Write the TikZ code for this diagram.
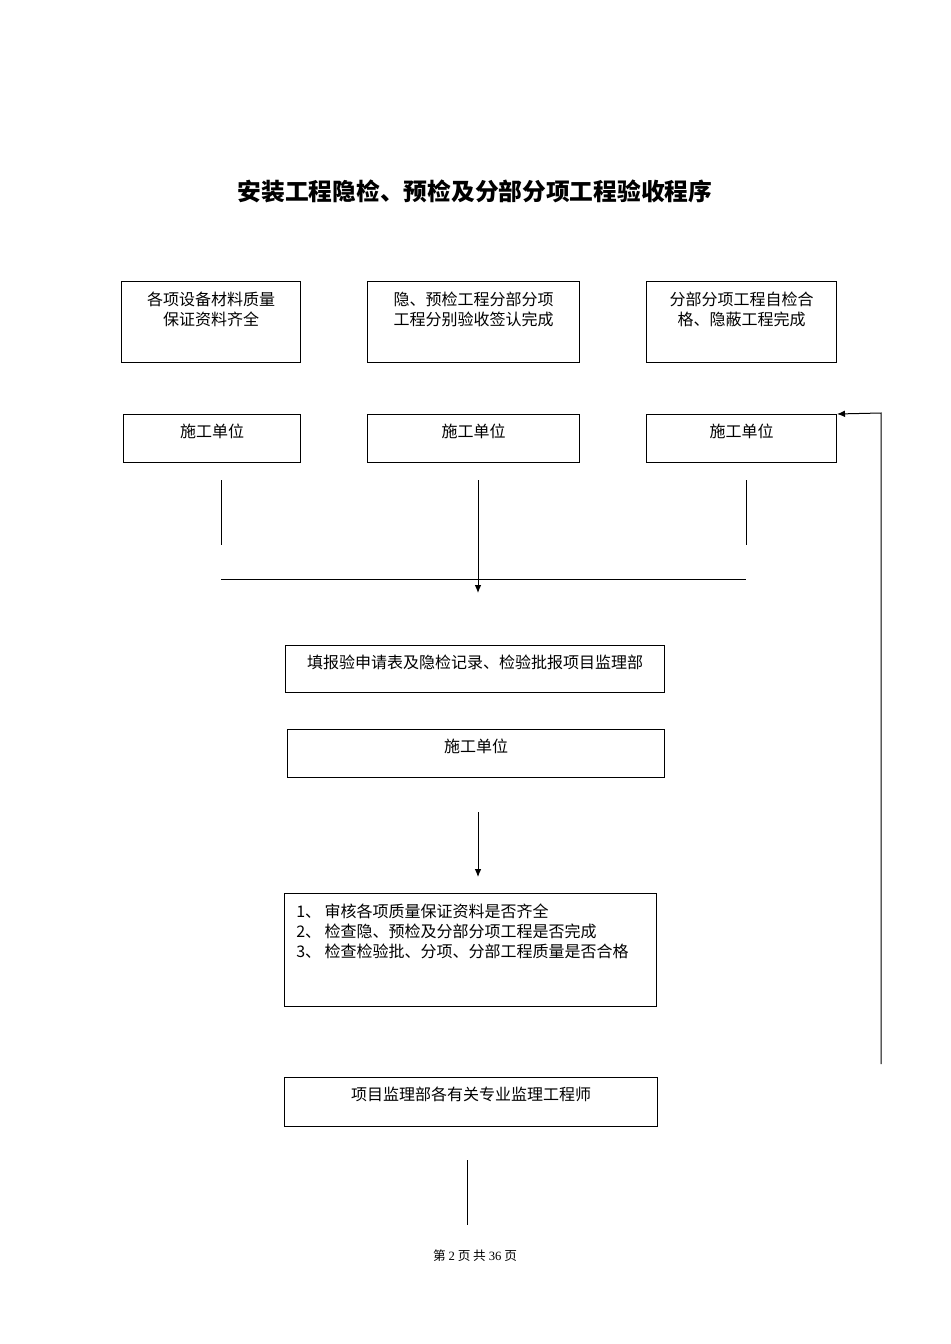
\documentclass[tikz,border=0pt]{standalone}
\usepackage{fontspec}
\setmainfont{Liberation Serif}
\newfontfamily\cjk{Noto Sans CJK SC}
\usetikzlibrary{positioning,arrows.meta}
\tikzset{
  boxnode/.style={draw,line width=0.75pt,anchor=north west,inner sep=0pt},
  txt/.style={anchor=north,inner sep=0pt,font=\cjk\fontsize{12}{15}\selectfont,align=center},
  conn/.style={line width=0.75pt},
  arr/.style={line width=0.75pt,-{Latex[length=6pt,width=5pt]}}
}
\begin{document}
\begin{tikzpicture}[x=0.75pt,y=-0.75pt]
		\useasboundingbox (0,0) rectangle (950,1344);
		% Title
		\node[font=\cjk\bfseries\fontsize{17.8}{21}\selectfont] (title) at (475,191) {安装工程隐检、预检及分部分项工程验收程序};
		
		% first row
		\node[boxnode,minimum width=179*0.75pt,minimum height=81*0.75pt] (zl) at (121,281) {};
		\node[txt] at ([yshift=-8pt]zl.north) {各项设备材料质量\\保证资料齐全};
		\node[boxnode,minimum width=212*0.75pt,minimum height=81*0.75pt] (yj) at (367,281) {};
		\node[txt] at ([yshift=-8pt]yj.north) {隐、预检工程分部分项\\工程分别验收签认完成};
		\node[boxnode,minimum width=190*0.75pt,minimum height=81*0.75pt] (zj) at (646,281) {};
		\node[txt] at ([yshift=-8pt]zj.north) {分部分项工程自检合\\格、隐蔽工程完成};
		
		% second row
		\node[boxnode,minimum width=177*0.75pt,minimum height=48*0.75pt] (sg1) at (123,414) {};
		\node[txt] at ([yshift=-7pt]sg1.north) {施工单位};
		\node[boxnode,minimum width=212*0.75pt,minimum height=48*0.75pt] (sg2) at (367,414) {};
		\node[txt] at ([yshift=-7pt]sg2.north) {施工单位};
		\node[boxnode,minimum width=190*0.75pt,minimum height=48*0.75pt] (sg3) at (646,414) {};
		\node[txt] at ([yshift=-7pt]sg3.north) {施工单位};
		
		% joining lines
		\coordinate (l1a) at (221,480); \coordinate (l1b) at (221,545);
		\coordinate (l2a) at (478,480); \coordinate (l2b) at (478,593);
		\coordinate (l3a) at (746,480); \coordinate (l3b) at (746,545);
		\coordinate (hl) at (221,579); \coordinate (hr) at (746,579);
		\draw[conn] (l1a) -- (l1b);
		\draw[conn] (l3a) -- (l3b);
		\draw[arr] (l2a) -- (l2b);
		\draw[conn] (hl) -- (hr);
		
		% middle
		\node[boxnode,minimum width=379*0.75pt,minimum height=47*0.75pt] (tb) at (285,645) {};
		\node[txt] at ([yshift=-7pt]tb.north) {填报验申请表及隐检记录、检验批报项目监理部};
		\node[boxnode,minimum width=377*0.75pt,minimum height=48*0.75pt] (sg4) at (287,729) {};
		\node[txt] at ([yshift=-7pt]sg4.north) {施工单位};
		\coordinate (a2a) at (478,812); \coordinate (a2b) at (478,877);
		\draw[arr] (a2a) -- (a2b);
		
		\node[boxnode,minimum width=372*0.75pt,minimum height=113*0.75pt] (sh) at (284,893) {};
		\node[txt,anchor=north west,align=left] at ([xshift=9pt,yshift=-8pt]sh.north west) {1、 审核各项质量保证资料是否齐全\\2、 检查隐、预检及分部分项工程是否完成\\3、 检查检验批、分项、分部工程质量是否合格};
		
		\node[boxnode,minimum width=373*0.75pt,minimum height=49*0.75pt] (jl) at (284,1077) {};
		\node[txt] at ([yshift=-7pt]jl.north) {项目监理部各有关专业监理工程师};
		\coordinate (l4a) at (467,1160); \coordinate (l4b) at (467,1225);
		\draw[conn] (l4a) -- (l4b);
		
		% feedback
		\coordinate (fb) at (881,1064);
		\draw[arr] (fb) -- (881,413) -- (sg3.north east);
		
		% footer
		\node[font=\cjk\fontsize{9.5}{11}\selectfont] (foot) at (475,1256) {第 {\rmfamily 2} 页 共 {\rmfamily 36} 页};
	\end{tikzpicture}
\end{document}
